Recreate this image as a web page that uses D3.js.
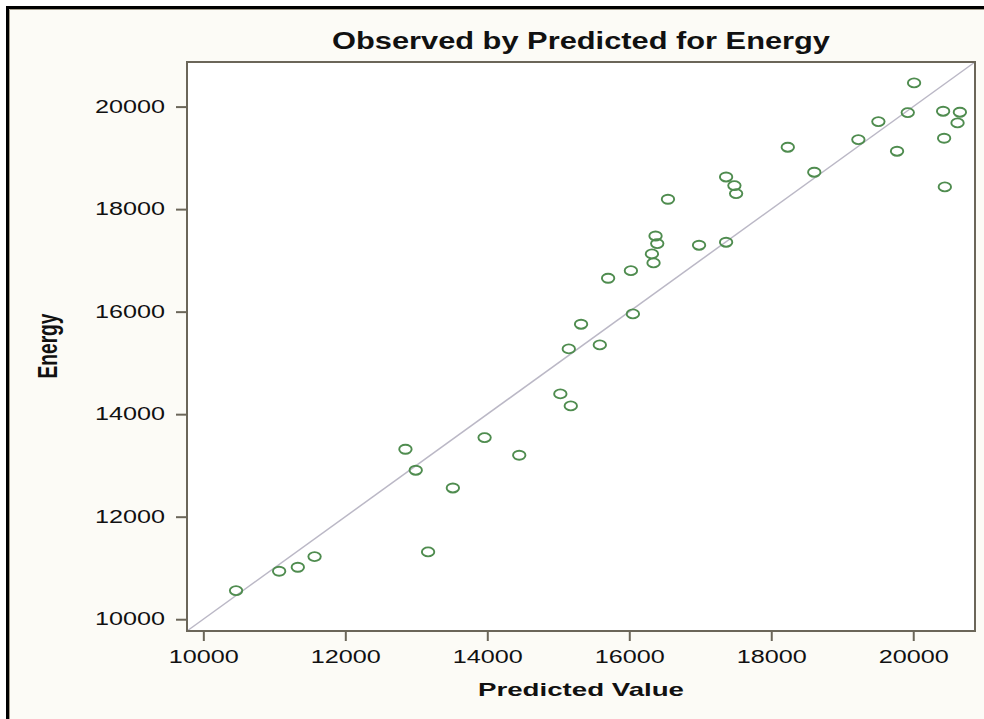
<!DOCTYPE html>
<html>
<head>
<meta charset="utf-8">
<script src="https://cdn.jsdelivr.net/npm/d3@7"></script>
<style>
  body { margin: 0; background: #ffffff; }
  .chart1 text { font-family: "Liberation Sans", Arial, sans-serif; fill: #111; }
</style>
</head>
<body>
<div class="chart1"></div>
<script>
var predicted = [10461, 11068, 11331, 11567, 12847, 12992, 13166, 13515, 13962, 14450,
  15029, 15176, 15148, 15585, 15321, 15702, 16023, 16051, 16319, 16342,
  16370, 16394, 16545, 16983, 17364, 17364, 17481, 17505, 18233, 18606,
  19227, 19509, 19772, 19923, 20012, 20421, 20657, 20624, 20435, 20445];
var energy = [10558, 10936, 11014, 11221, 13316, 12907, 11313, 12561, 13543, 13199,
  14395, 14161, 15273, 15351, 15755, 16652, 16800, 15956, 17126, 16951,
  17477, 17327, 18193, 17296, 17355, 18628, 18459, 18303, 19208, 18720,
  19356, 19707, 19130, 19883, 20462, 19910, 19891, 19682, 19383, 18433];
var axisRange = [9770, 20870];
var xTicks = [10000, 12000, 14000, 16000, 18000, 20000];
var yTicks = [10000, 12000, 14000, 16000, 18000, 20000];

var width = 984, height = 719;
var margin = { top: 62, right: 9, bottom: 88, left: 187 };
var w = width - margin.left - margin.right;
var h = height - margin.top - margin.bottom;

var svg = d3.select(".chart1")
    .append("svg")
    .attr("width", width)
    .attr("height", height);

// window background + border
svg.append("rect")
    .attr("x", 6).attr("y", 6)
    .attr("width", width).attr("height", height)
    .attr("fill", "#fcfbf6");
svg.append("path")
    .attr("d", "M7.5," + height + "V7.5H" + width)
    .attr("stroke", "#000").attr("stroke-width", 3).attr("fill", "none");
svg.append("path")
    .attr("d", "M9.5," + height + "V9.5H" + width)
    .attr("stroke", "#a49d8d").attr("stroke-width", 1).attr("fill", "none");

var xScale = d3.scaleLinear().domain(axisRange).range([0, w]);
var yScale = d3.scaleLinear().domain(axisRange).range([h, 0]);

var g = svg.append("g")
    .attr("transform", "translate(" + margin.left + "," + margin.top + ")");

g.append("rect")
    .attr("width", w).attr("height", h)
    .attr("fill", "#ffffff");

// reference line y = x
g.append("line")
    .attr("x1", xScale(axisRange[0])).attr("y1", yScale(axisRange[0]))
    .attr("x2", xScale(axisRange[1])).attr("y2", yScale(axisRange[1]))
    .attr("stroke", "#bbb8c6")
    .attr("stroke-width", 1.5);

var pts = predicted.map(function(d, i) { return { x: d, y: energy[i] }; });

g.selectAll("ellipse")
    .data(pts)
    .enter()
    .append("ellipse")
    .attr("cx", function(d) { return xScale(d.x); })
    .attr("cy", function(d) { return yScale(d.y); })
    .attr("rx", 6.2)
    .attr("ry", 4.5)
    .attr("fill", "none")
    .attr("stroke", "#4f8c4f")
    .attr("stroke-width", 1.9);

var xAxis = d3.axisBottom(xScale).tickValues(xTicks).tickSize(10).tickPadding(9).tickFormat(d3.format("d"));
var yAxis = d3.axisLeft(yScale).tickValues(yTicks).tickSize(11).tickPadding(11).tickFormat(d3.format("d"));

var gx = g.append("g")
    .attr("transform", "translate(0," + h + ")")
    .call(xAxis);
var gy = g.append("g")
    .call(yAxis);

[gx, gy].forEach(function(ax) {
  ax.select(".domain").remove();
  ax.selectAll("line").attr("stroke", "#6b6659").attr("stroke-width", 2);
  ax.selectAll("text")
    .attr("font-size", 18)
    .attr("textLength", 70)
    .attr("lengthAdjust", "spacingAndGlyphs")
    .style("font-family", "'Liberation Sans', Arial, sans-serif")
    .attr("fill", "#2a2a2a");
});

// plot frame
g.append("rect")
    .attr("width", w).attr("height", h)
    .attr("fill", "none")
    .attr("stroke", "#6b6659")
    .attr("stroke-width", 2);

svg.append("text")
    .attr("x", margin.left + w / 2)
    .attr("y", 49)
    .attr("text-anchor", "middle")
    .attr("font-size", 23)
    .attr("font-weight", "bold")
    .attr("textLength", 498)
    .attr("lengthAdjust", "spacingAndGlyphs")
    .text("Observed by Predicted for Energy");

svg.append("text")
    .attr("x", margin.left + w / 2)
    .attr("y", 696)
    .attr("text-anchor", "middle")
    .attr("font-size", 19)
    .attr("font-weight", "bold")
    .attr("textLength", 206)
    .attr("lengthAdjust", "spacingAndGlyphs")
    .text("Predicted Value");

svg.append("text")
    .attr("transform", "translate(57," + 346 + ") rotate(-90)")
    .attr("text-anchor", "middle")
    .attr("font-size", 28)
    .attr("font-weight", "bold")
    .attr("textLength", 65)
    .attr("lengthAdjust", "spacingAndGlyphs")
    .text("Energy");
</script>
</body>
</html>
